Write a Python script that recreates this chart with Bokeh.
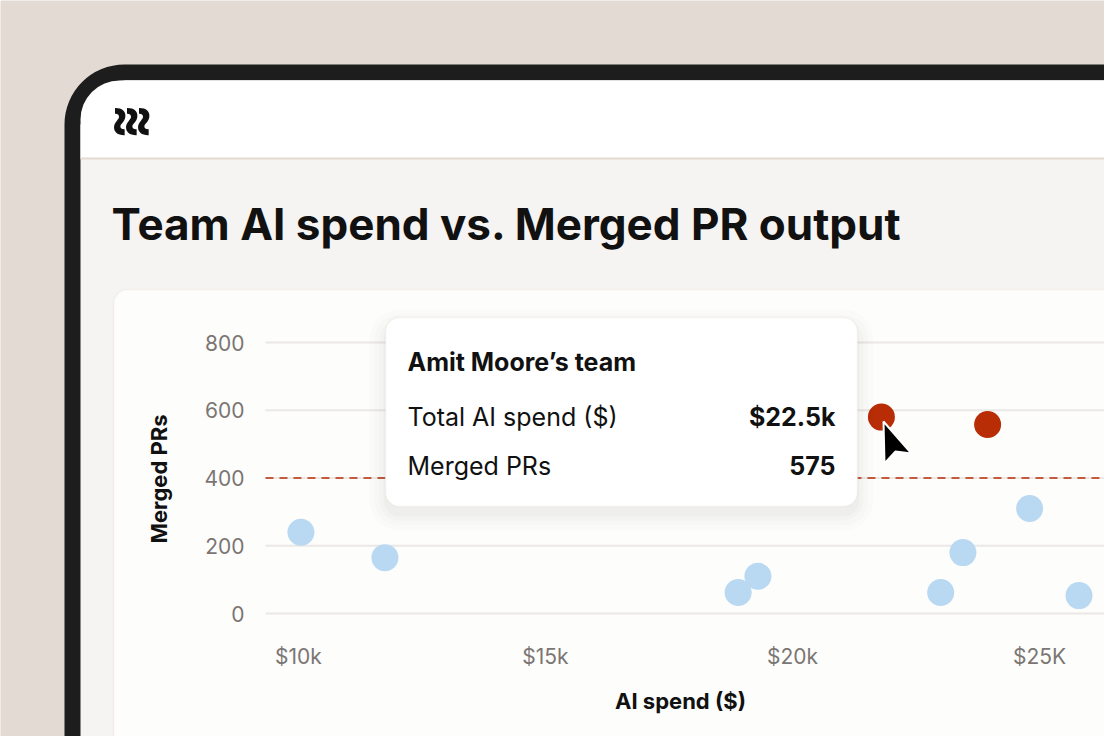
import math
from bokeh.plotting import figure
from bokeh.models import (Range1d, FixedTicker, BoxAnnotation, Label,
                          PolyAnnotation, ColumnDataSource, LinearAxis)
from bokeh.embed import file_html
from bokeh.resources import INLINE

# ---------------- data ----------------
team_spend = [10050, 11750, 18900, 19300, 23000, 23450, 24800, 25800]
team_prs = [240, 165, 62, 110, 62, 180, 310, 53]
top_spend = [21800, 23950]
top_prs = [580, 558]
threshold_prs = 400
x_ticks = [10000, 15000, 20000, 25000]
x_tick_labels = ["$10k", "$15k", "$20k", "$25K"]
y_ticks = [0, 200, 400, 600, 800]
title_text = "Team AI spend vs. Merged PR output"
tip_name = "Amit Moore\u2019s team"
tip_rows = ["Total AI spend ($)", "Merged PRs"]
tip_vals = ["$22.5k", "575"]

# ---------------- layout constants ----------------
W, H = 1104, 736
X_START, X_END = 3968, 26316      # spend range spanning the canvas width
Y_START, Y_END = -363, 1810       # PR range spanning the canvas height
CHART_X0 = 9332                   # left edge of plot area (spend units)
CHART_X1 = 26134                  # right edge used to centre the x label
AXIS_Y = -68                      # x-axis baseline (PR units)
Y_BOUNDS = (-40, 837)             # used to centre the y label

BG = "#e2dad3"
INK = "#111111"

p = figure(width=W, height=H, output_backend="svg", toolbar_location=None,
           x_range=Range1d(X_START, X_END), y_range=Range1d(Y_START, Y_END),
           x_axis_location=None, y_axis_location=None, min_border=0)
p.background_fill_color = BG
p.border_fill_color = BG
p.outline_line_color = None
p.grid.visible = False


def box(l, t, r, b, color, radius=0, line_color=None, line_width=1, level="image", alpha=1.0):
    bx = BoxAnnotation(left=l, right=r, top=t, bottom=b,
                       left_units="canvas", right_units="canvas",
                       top_units="canvas", bottom_units="canvas",
                       fill_color=color, fill_alpha=alpha, line_color=line_color,
                       line_width=line_width, border_radius=radius, level=level,
                       editable=False)
    p.add_layout(bx)
    return bx


def label(X, Y, text, size, color=INK, font="Inter", style="normal", align="left",
          baseline="middle", level="overlay", angle=0.0):
    lb = Label(x=X, y=Y, x_units="canvas", y_units="canvas", text=text,
               text_font_size=f"{size}px", text_color=color, text_font=font,
               text_font_style=style, text_align=align, text_baseline=baseline,
               level=level, angle=angle)
    p.add_layout(lb)
    return lb


# --------- device frame, screen, header, card ----------
box(64, 64, 1400, 1100, "#1d1d1d", radius=60)
box(80, 80, 1400, 1100, "#f6f4f2", radius=44)
box(80, 80, 1400, 158, "#ffffff", radius=44)
box(124, 80, 1400, 158, "#ffffff")
box(80, 124, 140, 158, "#ffffff")
box(80, 157, 1400, 159, "#e3dad2")
box(113, 289, 1400, 1100, "#fdfdfc", radius=14, line_color="#e2d9d1", line_width=1.5)

# logo: three heavy vertical waves
for lx in (116, 128, 140):
    label(lx, 121, "~", 52, style="bold", align="center", level="image",
          angle=math.pi / 2)
label(111, 223, title_text, 44, style="bold", baseline="alphabetic", level="image")

# ---------------- chart ----------------
p.segment(x0=CHART_X0, x1=X_END, y0=y_ticks, y1=y_ticks,
          line_color="#ebe8e5", line_width=2)
p.segment(x0=[CHART_X0], x1=[X_END], y0=[threshold_prs], y1=[threshold_prs],
          line_color="#b82c08", line_width=1.6, line_dash="8 6")

src_team = ColumnDataSource(dict(x=team_spend, y=team_prs))
src_top = ColumnDataSource(dict(x=top_spend, y=top_prs))
p.scatter("x", "y", source=src_team, size=27, fill_color="#b9d8f1", line_color=None)
p.scatter("x", "y", source=src_top, size=27, fill_color="#b82c06", line_color=None)

xaxis = LinearAxis(fixed_location=AXIS_Y, ticker=FixedTicker(ticks=x_ticks),
                   axis_label="AI spend ($)", bounds=(CHART_X0, CHART_X1))
xaxis.major_label_overrides = {t: s for t, s in zip(x_ticks, x_tick_labels)}
yaxis = LinearAxis(fixed_location=CHART_X0, ticker=FixedTicker(ticks=y_ticks),
                   axis_label="Merged PRs", bounds=Y_BOUNDS)
for ax in (xaxis, yaxis):
    ax.axis_line_color = None
    ax.major_tick_line_color = None
    ax.minor_tick_line_color = None
    ax.major_tick_out = 0
    ax.major_tick_in = 0
    ax.minor_tick_out = 0
    ax.major_label_text_font = "Inter"
    ax.major_label_text_font_size = "21px"
    ax.major_label_text_color = "#7b7673"
    ax.axis_label_text_font = "Inter"
    ax.axis_label_text_font_style = "bold"
    ax.axis_label_text_font_size = "22px"
    ax.axis_label_text_color = INK
xaxis.major_label_standoff = 7
xaxis.axis_label_standoff = 16
yaxis.major_label_standoff = 21
yaxis.axis_label_standoff = 29
p.add_layout(xaxis, "below")
p.add_layout(yaxis, "left")

# ---------------- tooltip card ----------------
for grow, a in ((16, 0.010), (11, 0.012), (6, 0.016), (2, 0.02)):
    box(385 - grow, 317 - grow + 8, 857 + grow, 506 + grow + 8, "#000000",
        radius=14 + grow, level="overlay", alpha=a)
box(385, 317, 857, 506, "#ffffff", radius=14, line_color="#e4dbd3",
    line_width=1.5, level="overlay")
label(407, 361, tip_name, 25, style="bold")
label(407, 416, tip_rows[0], 25)
label(407, 465, tip_rows[1], 25)
label(835, 416, tip_vals[0], 25, style="bold", align="right")
label(835, 465, tip_vals[1], 25, style="bold", align="right")

# ---------------- cursor ----------------
cur_x = [883, 884, 895, 911]
cur_y = [421, 463, 451, 453]
p.add_layout(PolyAnnotation(xs=cur_x, ys=cur_y, xs_units="canvas", ys_units="canvas",
                            fill_color="#000000", fill_alpha=1.0, line_color="#ffffff",
                            line_alpha=1.0, line_width=2, level="overlay", editable=False))

open("out.html", "w").write(file_html(p, INLINE))
